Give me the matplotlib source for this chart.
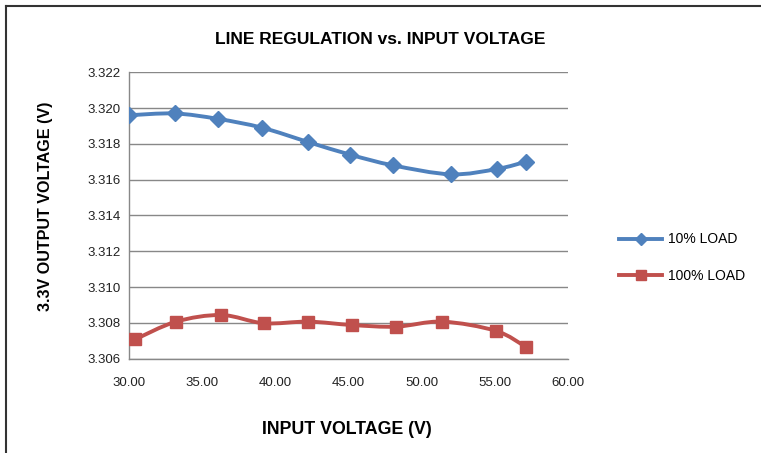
import numpy as np
import matplotlib.pyplot as plt
from matplotlib.path import Path
from matplotlib.patches import PathPatch
from matplotlib.lines import Line2D

plt.rcParams['font.family'] = ['Liberation Sans', 'DejaVu Sans']

# data
vin_10 = [30.0, 33.1, 36.05, 39.1, 42.25, 45.1, 48.05, 52.0, 55.15, 57.1]
vout_10 = [3.3196, 3.3197, 3.3194, 3.3189, 3.3181, 3.3174, 3.3168, 3.3163, 3.3166, 3.3170]
vin_100 = [30.4, 33.2, 36.3, 39.2, 42.25, 45.25, 48.25, 51.4, 55.05, 57.1]
vout_100 = [3.30708, 3.30807, 3.30844, 3.30798, 3.30807, 3.30788, 3.30779, 3.30807, 3.30756, 3.30667]

xticks = [30, 35, 40, 45, 50, 55, 60]
yticks = [3.306, 3.308, 3.310, 3.312, 3.314, 3.316, 3.318, 3.320, 3.322]

blue = '#4F81BD'
red = '#C0504D'
grid_col = '#888888'


def smooth_path(x, y):
    # bezier smoothing like Excel's "smoothed line"
    x = np.asarray(x)
    y = np.asarray(y)
    n = len(x)
    verts = [(x[0], y[0])]
    codes = [Path.MOVETO]
    for i in range(n - 1):
        i0 = max(i - 1, 0)
        i3 = min(i + 2, n - 1)
        c1 = (x[i] + (x[i + 1] - x[i0]) / 6, y[i] + (y[i + 1] - y[i0]) / 6)
        c2 = (x[i + 1] - (x[i3] - x[i]) / 6, y[i + 1] - (y[i3] - y[i]) / 6)
        verts += [c1, c2, (x[i + 1], y[i + 1])]
        codes += [Path.CURVE4] * 3
    return Path(verts, codes)


fig = plt.figure(figsize=(7.61, 4.53), dpi=100)
ax = fig.add_axes([129.3 / 761, 1 - 358.7 / 453, (568 - 129.3) / 761, (358.7 - 72.3) / 453])

ax.add_patch(PathPatch(smooth_path(vin_10, vout_10), fill=False, edgecolor=blue, lw=2.8, zorder=3))
ax.plot(vin_10, vout_10, ls='none', marker='D', ms=8, color=blue, zorder=4)
ax.add_patch(PathPatch(smooth_path(vin_100, vout_100), fill=False, edgecolor=red, lw=2.8, zorder=3))
ax.plot(vin_100, vout_100, ls='none', marker='s', ms=9, color=red, zorder=4)

ax.set_xlim(30, 60)
ax.set_ylim(3.306, 3.322)
ax.set_xticks(xticks)
ax.set_xticklabels([f"{v:.2f}" for v in xticks])
ax.set_yticks(yticks)
ax.set_yticklabels([f"{v:.3f}" for v in yticks])
ax.tick_params(axis='both', length=0, labelsize=9.5, colors='#222222')
ax.tick_params(axis='x', pad=13)
ax.tick_params(axis='y', pad=6)
ax.yaxis.grid(True, color=grid_col, lw=1)
ax.set_axisbelow(True)
for s in ['top', 'right']:
    ax.spines[s].set_visible(False)
for s in ['left', 'bottom']:
    ax.spines[s].set_color(grid_col)
    ax.spines[s].set_linewidth(1)

fig.text(380 / 761, 1 - 39 / 453, 'LINE REGULATION vs. INPUT VOLTAGE', ha='center', va='center',
         fontsize=12.5, fontweight='bold')
fig.text(46 / 761, 1 - 206 / 453, '3.3V OUTPUT VOLTAGE (V)', ha='center', va='center',
         rotation=90, fontsize=11.6, fontweight='bold')
fig.text(347 / 761, 1 - 430 / 453, 'INPUT VOLTAGE (V)', ha='center', va='center',
         fontsize=12.8, fontweight='bold')

handles = [Line2D([], [], color=blue, lw=2.8, marker='D', ms=6),
           Line2D([], [], color=red, lw=2.8, marker='s', ms=7)]
fig.legend(handles, ['10% LOAD', '100% LOAD'], loc='center left',
           bbox_to_anchor=(619 / 761, 1 - 257.5 / 453), frameon=False, fontsize=10,
           handlelength=3.1, handletextpad=0.4, labelspacing=1.6, borderpad=0, borderaxespad=0)

# border on top and left edges
fig.add_artist(Line2D([5.5 / 761, 5.5 / 761], [0, 1 - 5.5 / 453], color='#333333', lw=1.5))
fig.add_artist(Line2D([5.5 / 761, 1], [1 - 5.5 / 453, 1 - 5.5 / 453], color='#333333', lw=1.5))

fig.savefig('out.png', dpi=100)
